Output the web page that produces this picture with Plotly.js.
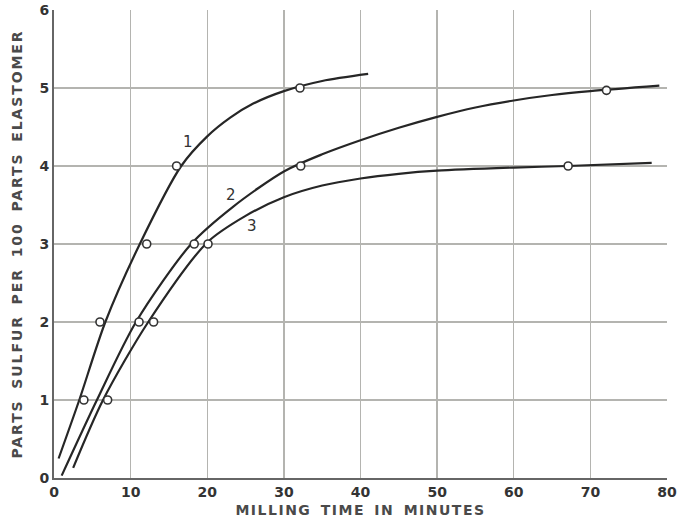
<!DOCTYPE html>
<html>
<head>
<meta charset="utf-8">
<script src="https://cdn.plot.ly/plotly-3.0.1.min.js"></script>
<style>
html,body{margin:0;padding:0;background:#fff;}
#chart{width:681px;height:528px;}
.g-xtitle text{letter-spacing:1.5px;word-spacing:3px;}
.g-ytitle text{letter-spacing:1.9px;word-spacing:4px;}
</style>
</head>
<body>
<div id="chart"></div>
<script>
// Curve traces
const curve1X = [0.6, 3.3, 6.7, 11.2, 16.6, 20, 23, 26, 30, 35, 41];
const curve1Y = [0.25, 1.0, 2.0, 3.0, 4.0, 4.38, 4.62, 4.8, 4.96, 5.09, 5.18];
const curve2X = [1.0, 5.6, 10.7, 17.9, 23.4, 30, 35, 40, 45, 50, 55, 60, 65, 70, 79];
const curve2Y = [0.03, 1.0, 2.0, 3.0, 3.48, 3.93, 4.15, 4.33, 4.49, 4.63, 4.75, 4.84, 4.91, 4.96, 5.03];
const curve3X = [2.5, 6.4, 12.3, 20, 25, 30, 35, 40, 45, 50, 60, 67, 78];
const curve3Y = [0.13, 1.0, 2.0, 3.02, 3.36, 3.6, 3.75, 3.84, 3.9, 3.94, 3.98, 4.0, 4.04];
// Measured points (open circles)
const points1X = [3.9, 6.0, 12.1, 16.0, 32.1];
const points1Y = [1, 2, 3, 4, 5];
const points2X = [11.1, 18.3, 32.2, 72.1];
const points2Y = [2, 3, 4, 4.97];
const points3X = [7.0, 13.0, 20.1, 67.1];
const points3Y = [1, 2, 3, 4.0];
// Curve labels
const labelText = ["1", "2", "3"];
const labelX = [17.5, 23.1, 25.9];
const labelY = [4.31, 3.63, 3.23];
// Axis ticks
const xTicks = [0, 10, 20, 30, 40, 50, 60, 70, 80];
const yTicks = [0, 1, 2, 3, 4, 5, 6];

const lineStyle = {color: '#262626', width: 2.2, shape: 'spline', smoothing: 0.8};
const markerStyle = {symbol: 'circle', size: 8, color: '#ffffff', line: {color: '#333333', width: 1.6}};

const traces = [
  {x: curve1X, y: curve1Y, mode: 'lines', line: lineStyle, hoverinfo: 'skip'},
  {x: curve2X, y: curve2Y, mode: 'lines', line: lineStyle, hoverinfo: 'skip'},
  {x: curve3X, y: curve3Y, mode: 'lines', line: lineStyle, hoverinfo: 'skip'},
  {x: points1X, y: points1Y, mode: 'markers', marker: markerStyle},
  {x: points2X, y: points2Y, mode: 'markers', marker: markerStyle},
  {x: points3X, y: points3Y, mode: 'markers', marker: markerStyle}
];

const annotations = labelText.map((t, i) => ({
  x: labelX[i], y: labelY[i], text: t, showarrow: false,
  font: {family: 'DejaVu Sans', size: 15, color: '#333333'}
}));

const layout = {
  width: 681, height: 528,
  margin: {l: 54, r: 14, t: 10, b: 50},
  paper_bgcolor: '#ffffff', plot_bgcolor: '#ffffff',
  showlegend: false,
  font: {family: 'DejaVu Sans', color: '#3a3a3a'},
  xaxis: {
    range: [0, 80], tickvals: xTicks, ticktext: xTicks.map(String),
    showgrid: true, gridcolor: '#b4b4b0', gridwidth: 1.3,
    zeroline: false, showline: true, linecolor: '#666666', linewidth: 2,
    mirror: false, ticks: '', ticklen: 0,
    tickfont: {family: 'DejaVu Sans', size: 14, color: '#333333', weight: 'bold'},
    title: {text: 'MILLING TIME IN MINUTES', standoff: 6,
            font: {family: 'DejaVu Sans', size: 14, color: '#4a4a4a', weight: 'bold'}}
  },
  yaxis: {
    range: [0, 6], tickvals: yTicks, ticktext: yTicks.map(String),
    showgrid: true, gridcolor: '#b4b4b0', gridwidth: 1.3,
    zeroline: false, showline: true, linecolor: '#666666', linewidth: 2,
    ticks: '', ticklen: 0,
    tickfont: {family: 'DejaVu Sans', size: 14, color: '#333333', weight: 'bold'},
    title: {text: 'PARTS SULFUR PER 100 PARTS ELASTOMER', standoff: 14,
            font: {family: 'DejaVu Sans', size: 14, color: '#4a4a4a', weight: 'bold'}}
  },
  annotations: annotations
};

Plotly.newPlot('chart', traces, layout, {displayModeBar: false, staticPlot: true});
</script>
</body>
</html>
